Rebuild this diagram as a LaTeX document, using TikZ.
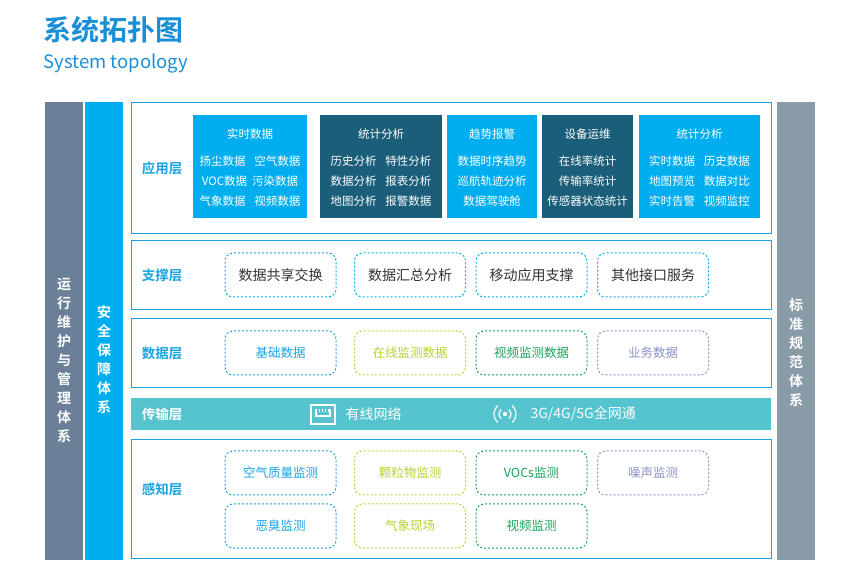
\documentclass[tikz,border=0pt]{standalone}
\usepackage{fontspec}
\setmainfont{Noto Sans CJK SC}
\newfontfamily\cjkb{Noto Sans CJK SC Bold}
\usetikzlibrary{positioning}
\definecolor{titleblue}{HTML}{1A8FD8}
\definecolor{layerblue}{HTML}{1AA3E3}
\definecolor{lightbox}{HTML}{00AEEF}
\definecolor{darkbox}{HTML}{1B5E7A}
\definecolor{barone}{HTML}{6B7F99}
\definecolor{bartwo}{HTML}{00AEEF}
\definecolor{barthree}{HTML}{8A9BA8}
\definecolor{transfill}{HTML}{55C4CF}
\definecolor{dyellow}{HTML}{B5D334}
\definecolor{dgreen}{HTML}{1AA25A}
\definecolor{dlav}{HTML}{8C92C8}
\newcommand{\colgap}{\hspace{9pt}}
\tikzset{
  bar/.style={fill=#1,draw=none,text=white,font=\cjkb\fontsize{14}{19}\selectfont,align=center},
  layer/.style={draw=layerblue,line width=0.9pt,fill=white},
  layername/.style={text=layerblue,font=\cjkb\fontsize{13.5}{15}\selectfont},
  appbox/.style={fill=#1,draw=none,text=white,font=\fontsize{11.5}{20}\selectfont,align=center},
  dbox/.style={draw=#1,text=#1,dashed,dash pattern=on 2pt off 2pt,line width=1pt,rounded corners=8pt,
    minimum width=111pt,minimum height=44pt,font=\fontsize{14}{16}\selectfont},
  small/.style={font=\fontsize{12.5}{14}\selectfont},
}
\begin{document}
\begin{tikzpicture}[x=1pt,y=-1pt]
  \useasboundingbox (0,0) rectangle (855,585);
  % title
  \node[anchor=west,text=titleblue,font=\cjkb\fontsize{28}{30}\selectfont] (title) at (40,30) {系统拓扑图};
  \node[anchor=west,text=titleblue,font=\fontsize{18.5}{20}\selectfont] (subtitle) at (40,63) {System topology};
  % side bars
  \fill[barone] (45,102) rectangle (83,560);
  \node[bar=barone] (ops) at (64,360) {运\\行\\维\\护\\与\\管\\理\\体\\系};
  \fill[bartwo] (85,102) rectangle (123,560);
  \node[bar=bartwo] (safe) at (104,360) {安\\全\\保\\障\\体\\系};
  \fill[barthree] (777,102) rectangle (815,560);
  \node[bar=barthree] (std) at (796,353) {标\\准\\规\\范\\体\\系};
  % layers
  \draw[layer] (131,102) rectangle (771,233);
  \draw[layer] (131,240) rectangle (771,309);
  \draw[layer] (131,318) rectangle (771,387);
  \fill[transfill] (131,398) rectangle (771,430);
  \draw[layer] (131,439) rectangle (771,558);
  \node[layername] (app) at (162,168) {应用层};
  \node[layername] (sup) at (162,275) {支撑层};
  \node[layername] (dat) at (162,353) {数据层};
  \node[layername,text=white] (tra) at (162,414) {传输层};
  \node[layername] (sen) at (162,489) {感知层};
  % application boxes
  \fill[lightbox] (193,115) rectangle (307,218);
  \fill[darkbox] (320,115) rectangle (442,218);
  \fill[lightbox] (447,115) rectangle (537,218);
  \fill[darkbox] (542,115) rectangle (633,218);
  \fill[lightbox] (639,115) rectangle (760,218);
  \node[appbox=lightbox] (a1) at (250,168) {实时数据\\[7pt]扬尘数据\colgap 空气数据\\VOC数据\hspace{5pt}污染数据\\气象数据\colgap 视频数据};
  \node[appbox=darkbox] (a2) at (381,168) {统计分析\\[7pt]历史分析\colgap 特性分析\\数据分析\colgap 报表分析\\地图分析\colgap 报警数据};
  \node[appbox=lightbox] (a3) at (492,168) {趋势报警\\[7pt]数据时序趋势\\巡航轨迹分析\\数据驾驶舱};
  \node[appbox=darkbox] (a4) at (587.5,168) {设备运维\\[7pt]在线率统计\\传输率统计\\传感器状态统计};
  \node[appbox=lightbox] (a5) at (699.5,168) {统计分析\\[7pt]实时数据\colgap 历史数据\\地图预览\colgap 数据对比\\实时告警\colgap 视频监控};
  % support
  \node[dbox=lightbox,text=darkgray!80!black] (s1) at (280.5,275) {数据共享交换};
  \node[dbox=lightbox,text=darkgray!80!black] (s2) at (410,275) {数据汇总分析};
  \node[dbox=lightbox,text=darkgray!80!black] (s3) at (531.5,275) {移动应用支撑};
  \node[dbox=lightbox,text=darkgray!80!black] (s4) at (653,275) {其他接口服务};
  % data
  \node[dbox=layerblue,small] (d1) at (280.5,353) {基础数据};
  \node[dbox=dyellow,small] (d2) at (410,353) {在线监测数据};
  \node[dbox=dgreen,small] (d3) at (531.5,353) {视频监测数据};
  \node[dbox=dlav,small] (d4) at (653,353) {业务数据};
  % transmission
  \draw[white,line width=1.5pt] (311,405) rectangle (335,424);
  \draw[white,line width=1.2pt] (316,409) -- (316,416) -- (330,416) -- (330,409);
  \foreach \xx in {319,322,325,328} \draw[white,line width=0.8pt] (\xx,409) -- (\xx,412);
  \node[anchor=west,text=white,font=\fontsize{14}{16}\selectfont] (wired) at (342,414) {有线网络};
  \fill[white] (505,414) circle (2.2pt);
  \foreach \rr in {6,11} {
    \draw[white,line width=1.2pt] (505,414) ++(130:\rr) arc[start angle=130,end angle=230,radius=\rr];
    \draw[white,line width=1.2pt] (505,414) ++(50:\rr) arc[start angle=50,end angle=-50,radius=\rr];
  }
  \node[anchor=west,text=white,font=\fontsize{14}{16}\selectfont] (wireless) at (527,414) {3G/4G/5G全网通};
  % sensing
  \node[dbox=layerblue,small] (p1) at (280.5,473) {空气质量监测};
  \node[dbox=dyellow,small] (p2) at (410,473) {颗粒物监测};
  \node[dbox=dgreen,small] (p3) at (531.5,473) {VOCs监测};
  \node[dbox=dlav,small] (p4) at (653,473) {噪声监测};
  \node[dbox=layerblue,small] (p5) at (280.5,526) {恶臭监测};
  \node[dbox=dyellow,small] (p6) at (410,526) {气象现场};
  \node[dbox=dgreen,small] (p7) at (531.5,526) {视频监测};
\end{tikzpicture}
\end{document}
